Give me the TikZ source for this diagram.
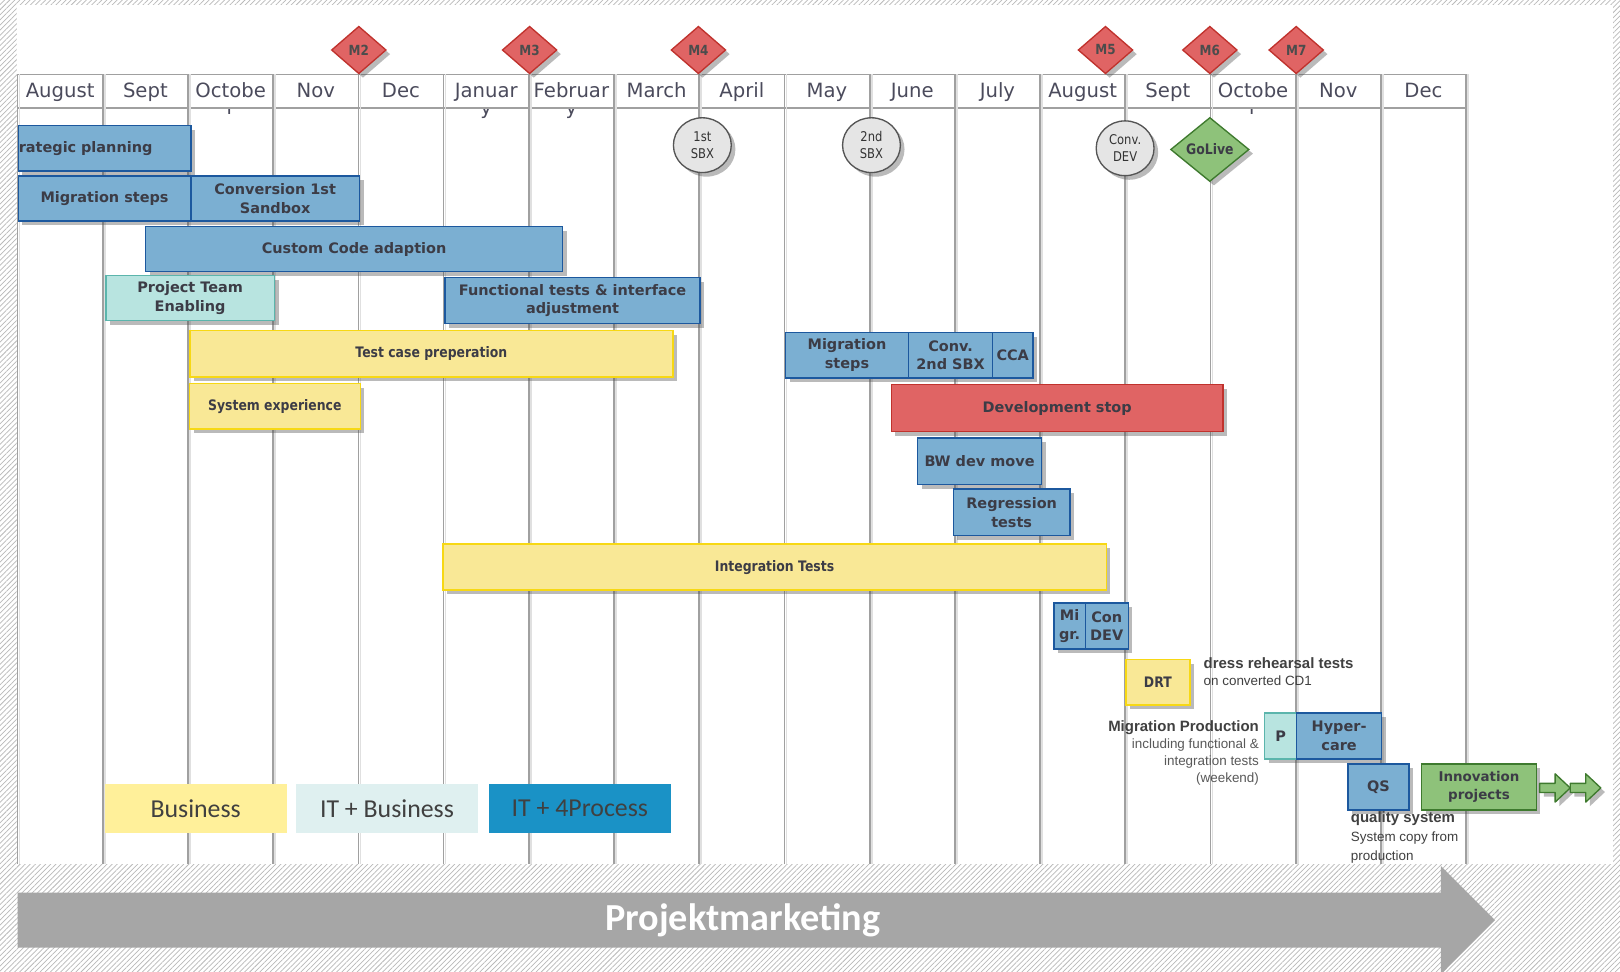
\documentclass[tikz,border=0pt]{standalone}
\usepackage{fontspec}
\setmainfont{DejaVu Sans}
\newfontfamily\narrowfont[FakeStretch=0.86]{DejaVu Sans}
\newfontfamily\notefont{Liberation Sans}
\newfontfamily\legendfont{Carlito}
\usepackage{tikz}
\usetikzlibrary{shapes.geometric, positioning, calc, shadows, patterns.meta}

\definecolor{itblue}{RGB}{123, 175, 210}
\definecolor{itblueline}{RGB}{28, 88, 158}
\definecolor{itbizfill}{RGB}{184, 228, 224}
\definecolor{itbizline}{RGB}{91, 181, 172}
\definecolor{bizfill}{RGB}{249, 232, 150}
\definecolor{bizline}{RGB}{247, 216, 20}
\definecolor{stopfill}{RGB}{224, 100, 100}
\definecolor{stopline}{RGB}{192, 50, 45}
\definecolor{livefill}{RGB}{142, 194, 122}
\definecolor{liveline}{RGB}{62, 122, 46}
\definecolor{sbxfill}{RGB}{229, 229, 229}
\definecolor{sbxline}{RGB}{85, 85, 85}
\definecolor{textgray}{RGB}{60, 60, 70}
\definecolor{monthgray}{RGB}{75, 75, 92}
\definecolor{gridgray}{RGB}{160, 160, 160}
\definecolor{legbiz}{RGB}{255, 240, 154}
\definecolor{legitbiz}{RGB}{223, 240, 240}
\definecolor{legitproc}{RGB}{26, 146, 198}
\definecolor{bandgray}{RGB}{166, 166, 166}

\begin{document}
\begin{tikzpicture}[
    x=1pt, y=-1pt,
    boxshadow/.style={drop shadow={shadow xshift=4pt, shadow yshift=-4pt, opacity=0.38, fill=black!70}},
    bar/.style={draw, line width=1.4pt, anchor=north west, inner sep=0pt, align=center,
                font=\fontsize{14}{18}\selectfont\bfseries, text=textgray, boxshadow},
    itbar/.style={bar, fill=itblue, draw=itblueline},
    itbizbar/.style={bar, fill=itbizfill, draw=itbizline},
    bizbar/.style={bar, fill=bizfill, draw=bizline, font=\narrowfont\fontsize{14}{18}\selectfont\bfseries},
    stopbar/.style={bar, fill=stopfill, draw=stopline},
    innobar/.style={bar, fill=livefill, draw=liveline, font=\fontsize{13}{17}\selectfont\bfseries},
    milestone/.style={diamond, draw=stopline, fill=stopfill, line width=1.3pt, inner sep=0pt,
                      minimum width=53pt, minimum height=46pt, text=black!70,
                      font=\narrowfont\fontsize{13.5}{13.5}\selectfont\bfseries, boxshadow},
    sbx/.style={ellipse, draw=sbxline, fill=sbxfill, line width=1.3pt, inner sep=0pt,
                minimum width=56pt, minimum height=53pt, align=center, text=black!80,
                font=\narrowfont\fontsize{13}{16}\selectfont, boxshadow},
    golive/.style={diamond, draw=liveline, fill=livefill, line width=1.3pt, inner sep=0pt,
                   minimum width=76pt, minimum height=62pt, text=textgray,
                   font=\narrowfont\fontsize{14}{14}\selectfont\bfseries, boxshadow},
    month/.style={anchor=base, font=\fontsize{19}{22}\selectfont, text=monthgray},
    note/.style={font=\notefont\fontsize{13}{16.5}\selectfont, text=black!75},
    legend/.style={anchor=north west, minimum width=176pt, minimum height=47pt, inner sep=0pt,
                   font=\legendfont\fontsize{25}{25}\selectfont, text=black!75},
    gridline/.style={draw=gridgray, line width=1.7pt},
    gridshade/.style={draw=black!12, line width=1.6pt},
    nextarrow/.style={fill=livefill, draw=liveline, line width=1.3pt, line join=round, boxshadow}
]
    \useasboundingbox (0,0) rectangle (1568,940);

    % hatched frame and white sheet
    \fill[white] (0,0) rectangle (1568,940);
    \fill[pattern={Lines[angle=45, distance=3.5pt, line width=0.7pt]}, pattern color=gray!55]
        (0,0) rectangle (1568,940);
    \fill[white] (16,5) rectangle (1561,836);

    % month grid
    \draw[gridline] (17,72) rectangle (1419,104.5);
    \foreach \k in {0,...,17} {
        \draw[gridshade] ({17+82.47*\k+2},72) -- ++(0,764);
        \draw[gridline] ({17+82.47*\k},72) -- ++(0,764);
    }
    \foreach \m [count=\k from 0] in {August,Sept,Octobe,Nov,Dec,Januar,Februar,March,
                                      April,May,June,July,August,Sept,Octobe,Nov,Dec}
        \node[month] (mon\k) at ({17+82.47*(\k+0.5)},94) {\m};
    \begin{scope}
        \clip (17,106) rectangle (1419,120);
        \node[month] (octr1) at ({17+82.47*2.5},111) {r};
        \node[month] (jany) at ({17+82.47*5.5},111) {y};
        \node[month] (feby) at ({17+82.47*6.5},111) {y};
        \node[month] (octr2) at ({17+82.47*14.5},111) {r};
    \end{scope}

    % milestones
    \node[milestone] (m2) at (347.3,48.4) {M2};
    \node[milestone] (m3) at (512.6,48.4) {M3};
    \node[milestone] (m4) at (676,48.4) {M4};
    \node[milestone] (m5) at (1070,48.4) {M5};
    \node[milestone] (m6) at (1171,48.4) {M6};
    \node[milestone] (m7) at (1254.6,48.4) {M7};

    \node[sbx] (sbx1) at (679.8,140.5) {1st\\SBX};
    \node[sbx] (sbx2) at (843.5,140.5) {2nd\\SBX};
    \node[sbx] (convdev) at (1089,143.5) {Conv.\\DEV};
    \node[golive] (golive) at (1171,144.7) {GoLive};

    % activities
    \node[itbar, minimum width=167pt, minimum height=44pt, text width=166pt, align=left]
        (stratplan) at (17,121) {rategic planning};
    \node[itbar, minimum width=167pt, minimum height=43.5pt] (migsteps) at (17,169.5) {Migration steps};
    \node[itbar, minimum width=163.3pt, minimum height=43.5pt] (convsbx) at (184,169.5) {Conversion 1st\\Sandbox};
    \node[itbar, minimum width=404pt, minimum height=43.5pt] (customcode) at (140,218.7) {Custom Code adaption};
    \node[itbizbar, minimum width=163.3pt, minimum height=43.7pt] (teamenable) at (101.7,266) {Project Team\\Enabling};
    \node[itbar, minimum width=247pt, minimum height=44.5pt] (functests) at (430,267.8) {Functional tests \& interface\\adjustment};
    \node[bizbar, minimum width=467.6pt, minimum height=44.6pt] (testcase) at (183,319.4) {Test case preperation};
    \node[bizbar, minimum width=165.4pt, minimum height=44.2pt] (sysexp) at (182.6,370.4) {System experience};

    \node[itbar, minimum width=119.2pt, minimum height=44pt] (migsteps2) at (759.5,321) {Migration\\steps};
    \node[itbar, minimum width=81.3pt, minimum height=44pt] (convsbx2) at (878.7,321) {Conv.\\2nd SBX};
    \node[itbar, minimum width=39pt, minimum height=44pt] (cca) at (960,321) {CCA};
    \node[stopbar, minimum width=321pt, minimum height=45.2pt] (devstop) at (862,371.7) {Development stop};
    \node[itbar, minimum width=120pt, minimum height=45pt] (bwmove) at (887.4,423.3) {BW dev move};
    \node[itbar, minimum width=113pt, minimum height=45pt] (regtests) at (922,472.7) {Regression\\tests};
    \node[bizbar, minimum width=642pt, minimum height=44.4pt] (inttests) at (428,526) {Integration Tests};

    \node[itbar, minimum width=30.3pt, minimum height=44.5pt] (migr) at (1019.4,583) {Mi\\gr.};
    \node[itbar, minimum width=41.6pt, minimum height=44.5pt] (condev) at (1049.7,583) {Con\\DEV};
    \node[bizbar, minimum width=62pt, minimum height=44pt] (drt) at (1089,637.8) {DRT};
    \node[itbizbar, minimum width=31pt, minimum height=44.6pt] (prodp) at (1223.3,689.4) {P};
    \node[itbar, minimum width=82.4pt, minimum height=44.6pt] (hypercare) at (1254.2,689.4) {Hyper-\\care};
    \node[itbar, minimum width=59pt, minimum height=44.5pt] (qs) at (1303.9,738.8) {QS};
    \node[innobar, minimum width=111pt, minimum height=44.5pt] (innov) at (1375.3,738.8) {Innovation\\projects};

    \foreach \k in {0,1}
        \filldraw[nextarrow] ($(innov.east)+(2.5+29.6*\k,-3.5)$) -- ++(15,0) -- ++(0,-9.3)
            -- ++(14.6,13.7) -- ++(-14.6,13.7) -- ++(0,-9.3) -- ++(-15,0) -- cycle;

    % notes
    \node[note, anchor=west, align=left] (drtnote) at (1161.5,650.5)
        {{\fontsize{14.5}{16.5}\selectfont\bfseries dress rehearsal tests}\\on converted CD1};
    \node[note, anchor=east, align=right] (prodnote) at (1222,728.5)
        {{\fontsize{14.5}{16.5}\selectfont\bfseries Migration Production}\\\color{black!65}including functional \&\\\color{black!65}integration tests\\\color{black!65}(weekend)};
    \node[note, anchor=west, align=left, font=\notefont\fontsize{13}{18}\selectfont] (qsnote) at (1304,810.5)
        {{\fontsize{14.5}{18}\selectfont\bfseries quality system}\\System copy from\\production};

    % legend
    \node[legend, fill=legbiz] (legbiz) at (101.2,758.8) {Business};
    \node[legend, fill=legitbiz] (legitbiz) at (286.4,758.8) {IT + Business};
    \node[legend, fill=legitproc] (legitproc) at (473,758.8) {IT + 4Process};

    % project band
    \fill[bandgray] (17,864) -- (1394.5,864) -- (1394.5,838) -- (1447,890.6)
        -- (1394.5,943.2) -- (1394.5,917.2) -- (17,917.2) -- cycle;
    \node[font=\legendfont\fontsize{37}{37}\selectfont\bfseries, text=white] (band) at (719,891) {Projektmarketing};
\end{tikzpicture}
\end{document}
